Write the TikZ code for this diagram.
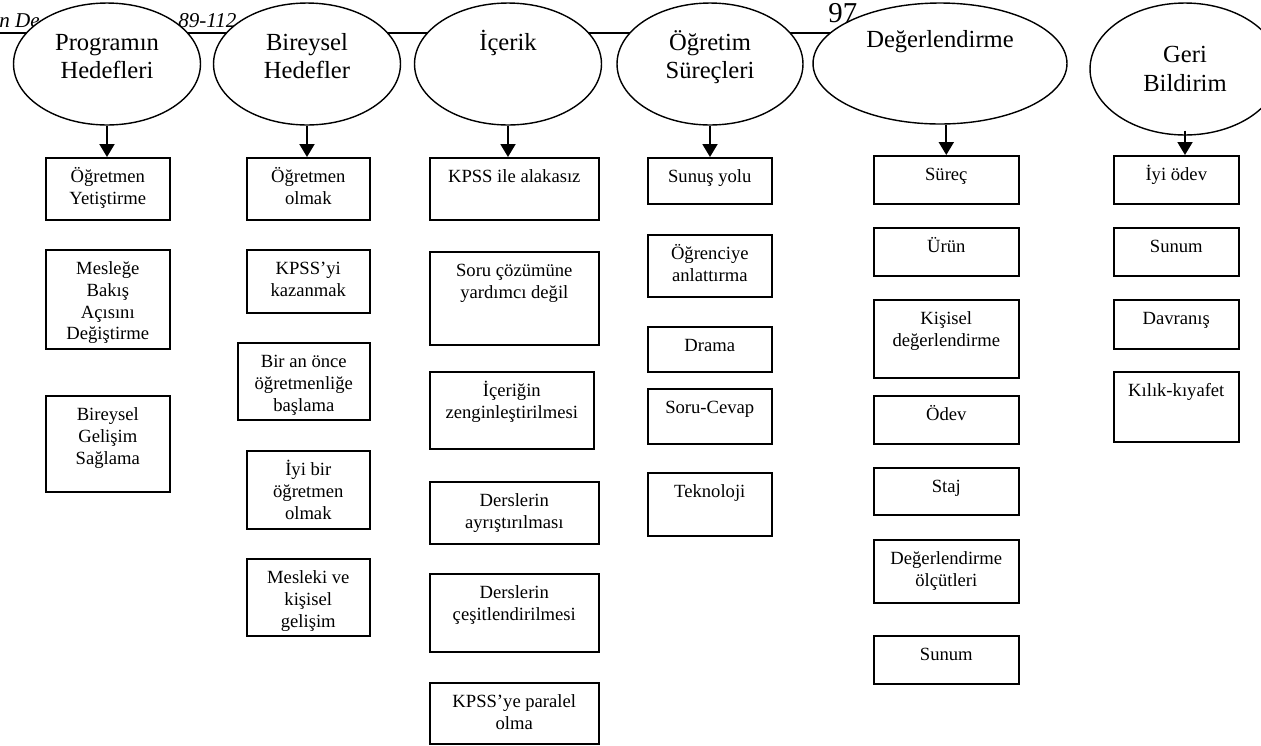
\documentclass[tikz,border=0pt]{standalone}
\usepackage{fontspec}
\setmainfont{Liberation Serif}
\usetikzlibrary{shapes.geometric,arrows.meta}

\newlength{\pk}
\setlength{\pk}{0.02cm}
\newcommand{\kt}[3]{\parbox[c][#2\pk][t]{#1\pk}{\centering\rule{0pt}{25\pk}#3}}
\newcommand{\et}[3]{\parbox[c][80\pk][t]{#1\pk}{\centering\rule{0pt}{#2\pk}#3}}

\tikzset{
  baslik/.style={ellipse, draw, fill=white, line width=0.8pt, inner sep=0pt,
    font=\fontsize{14}{16.4}\selectfont},
  kutu/.style={draw, line width=0.9pt, inner sep=0pt, anchor=north west,
    font=\fontsize{10.6}{12.3}\selectfont},
  ok/.style={line width=1.1pt, -{Triangle[length=0.26cm, width=0.3cm]}}
}

\begin{document}
\begin{tikzpicture}[x=0.02cm, y=-0.02cm]
\useasboundingbox (0,0) rectangle (1261,745);

\draw[line width=0.8pt] (0,33) -- (880,33);
\node[anchor=base west, inner sep=0pt, font=\fontsize{12}{14}\selectfont\itshape] (dergi) at (-1,27) {n De};
\node[anchor=base west, inner sep=0pt, font=\fontsize{12}{14}\selectfont\itshape] (sayfa) at (178,27) {89-112};
\node[anchor=base west, inner sep=0pt, font=\fontsize{16.4}{18}\selectfont] (no) at (828,22) {97};

\node[baslik, minimum width=3.74cm, minimum height=2.44cm] (e1) at (107,64) {\et{130}{26}{Programın\\Hedefleri}};
\node[baslik, minimum width=3.74cm, minimum height=2.44cm] (e2) at (307,64) {\et{130}{26}{Bireysel\\Hedefler}};
\node[baslik, minimum width=3.74cm, minimum height=2.44cm] (e3) at (508,64) {\et{130}{26}{İçerik}};
\node[baslik, minimum width=3.72cm, minimum height=2.44cm] (e4) at (710,64) {\et{130}{26}{Öğretim\\Süreçleri}};
\node[baslik, minimum width=5.08cm, minimum height=2.42cm] (e5) at (940,63.5) {\et{175}{23.5}{Değerlendirme}};
\node[baslik, minimum width=3.8cm, minimum height=2.64cm] (e6) at (1185,69) {\et{130}{33.5}{Geri\\Bildirim}};

\node[kutu] (p1) at (45,157) {\kt{124}{62}{Öğretmen\\Yetiştirme}};
\node[kutu] (p2) at (45,249) {\kt{124}{99}{Mesleğe\\Bakış\\Açısını\\Değiştirme}};
\node[kutu] (p3) at (45,395) {\kt{124}{96}{Bireysel\\Gelişim\\Sağlama}};

\node[kutu] (b1) at (246,157) {\kt{123}{62}{Öğretmen\\olmak}};
\node[kutu] (b2) at (246,249) {\kt{123}{63}{KPSS’yi\\kazanmak}};
\node[kutu] (b3) at (237,342) {\kt{132}{77}{Bir an önce\\öğretmenliğe\\başlama}};
\node[kutu] (b4) at (246,450) {\kt{123}{78}{İyi bir\\öğretmen\\olmak}};
\node[kutu] (b5) at (246,558) {\kt{123}{77}{Mesleki ve\\kişisel\\gelişim}};

\node[kutu] (i1) at (429,157) {\kt{169}{62}{KPSS ile alakasız}};
\node[kutu] (i2) at (429,251) {\kt{169}{93}{Soru çözümüne\\yardımcı değil}};
\node[kutu] (i3) at (429,371) {\kt{164}{77}{İçeriğin\\zenginleştirilmesi}};
\node[kutu] (i4) at (429,481) {\kt{169}{62}{Derslerin\\ayrıştırılması}};
\node[kutu] (i5) at (429,573) {\kt{169}{78}{Derslerin\\çeşitlendirilmesi}};
\node[kutu] (i6) at (429,682) {\kt{169}{61}{KPSS’ye paralel\\olma}};

\node[kutu] (s1) at (647,157) {\kt{124}{46}{Sunuş yolu}};
\node[kutu] (s2) at (647,234) {\kt{124}{62}{Öğrenciye\\anlattırma}};
\node[kutu] (s3) at (647,326) {\kt{124}{45}{Drama}};
\node[kutu] (s4) at (647,388) {\kt{124}{55}{Soru-Cevap}};
\node[kutu] (s5) at (647,472) {\kt{124}{63}{Teknoloji}};

\node[kutu] (d1) at (873,155) {\kt{145}{48}{Süreç}};
\node[kutu] (d2) at (873,227) {\kt{145}{48}{Ürün}};
\node[kutu] (d3) at (873,299) {\kt{145}{78}{Kişisel\\değerlendirme}};
\node[kutu] (d4) at (873,395) {\kt{145}{48}{Ödev}};
\node[kutu] (d5) at (873,467) {\kt{145}{47}{Staj}};
\node[kutu] (d6) at (873,539) {\kt{145}{63}{Değerlendirme\\ölçütleri}};
\node[kutu] (d7) at (873,635) {\kt{145}{48}{Sunum}};

\node[kutu] (g1) at (1113,155) {\kt{125}{48}{İyi ödev}};
\node[kutu] (g2) at (1113,227) {\kt{125}{48}{Sunum}};
\node[kutu] (g3) at (1113,299) {\kt{125}{49}{Davranış}};
\node[kutu] (g4) at (1113,371) {\kt{125}{70}{Kılık-kıyafet}};

\draw[ok] (e1.south) -- (e1.south |- p1.north);
\draw[ok] (e2.south) -- (e2.south |- b1.north);
\draw[ok] (e3.south) -- (e3.south |- i1.north);
\draw[ok] (e4.south) -- (e4.south |- s1.north);
\draw[ok] (d1.north |- e5.south) -- (d1.north);
\draw[ok] ([yshift=0.1cm]e6.south) -- (e6.south |- g1.north);

\end{tikzpicture}
\end{document}
